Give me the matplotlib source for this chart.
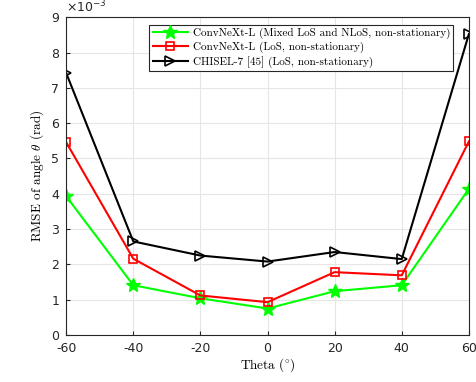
import matplotlib
matplotlib.use('Agg')
import matplotlib.pyplot as plt

# valeurs (en 1e-3 rad)
theta = [-60, -40, -20, 0, 20, 40, 60]
mixed = [3.93, 1.41, 1.04, 0.75, 1.24, 1.41, 4.14]
los = [5.46, 2.16, 1.12, 0.93, 1.78, 1.69, 5.48]
chisel = [7.42, 2.65, 2.25, 2.08, 2.35, 2.15, 8.52]
yticks = list(range(10))

labels = ['ConvNeXt-L (Mixed LoS and NLoS, non-stationary)',
          'ConvNeXt-L (LoS, non-stationary)',
          'CHISEL-7 [45] (LoS, non-stationary)']

plt.rcParams['mathtext.fontset'] = 'cm'
plt.rcParams['axes.unicode_minus'] = False
serif = ['cmr10', 'DejaVu Serif']

fig = plt.figure(figsize=(4.76, 3.82), dpi=100)
ax = fig.add_axes([0.139, 0.123, 0.846, 0.832])

ax.plot(theta, mixed, color='#00ff00', lw=1.5, marker='*',
        ms=10, label=labels[0])
ax.plot(theta, los, color='red', lw=1.5, marker='s', ms=6,
        mfc='none', mew=1.2, label=labels[1])
ax.plot(theta, chisel, color='black', lw=1.5, marker='>',
        ms=7, mfc='none', mew=1.2, label=labels[2])

ax.set_xlim(-60, 60)
ax.set_ylim(0, 9)
ax.set_xticks(theta)
ax.set_yticks(yticks)
# facteur d'echelle comme dans matlab
t = ax.text(0.0, 1.005, r'$\times 10^{-3}$', transform=ax.transAxes,
            fontsize=9, color='#262626', va='bottom', ha='left')
t.set_math_fontfamily('dejavusans')

ax.grid(True, color='#e6e6e6', lw=0.8)
ax.set_axisbelow(True)
ax.tick_params(direction='in', labelsize=9, colors='#262626', length=3, pad=5)
for s in ax.spines.values():
    s.set_color('#262626')
    s.set_linewidth(0.8)

ax.set_xlabel(r'Theta $(^{\circ})$', family=serif, fontsize=9.5, labelpad=1)
ax.set_ylabel(r'RMSE of angle $\theta$ (rad)', family=serif, fontsize=9.5,
              labelpad=4)

leg = ax.legend(loc='upper right', bbox_to_anchor=(0.967, 0.983),
                prop={'family': serif, 'size': 8}, fancybox=False,
                framealpha=1, edgecolor='#262626', borderpad=0.3,
                labelspacing=0.25, handlelength=3.2, handletextpad=0.4,
                borderaxespad=0.2)
leg.get_frame().set_linewidth(0.8)

fig.savefig('out.png', dpi=100)
